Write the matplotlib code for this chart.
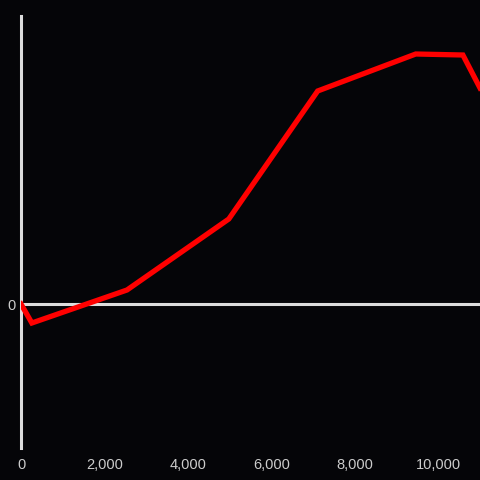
import matplotlib
matplotlib.use("Agg")
import matplotlib.pyplot as plt

x = [0, 260, 2540, 4980, 7110, 9460, 10590, 11000]
y = [0, -19, 14, 85, 213, 250, 249, 216]
xticks = [0, 2000, 4000, 6000, 8000, 10000]

plt.rcParams["font.family"] = ["Liberation Sans", "DejaVu Sans"]

bg = "#050508"
fig = plt.figure(figsize=(4.8, 4.8), dpi=100, facecolor=bg)
ax = fig.add_axes([21 / 480, 32 / 480, 459 / 480, 432 / 480])
ax.set_facecolor(bg)

ax.axhline(0, color="#dddddd", lw=2.2, zorder=1)
ax.plot(x, y, color="#ff0000", lw=3.8, solid_joinstyle="miter", zorder=3)

ax.set_xlim(0, 11000)
ax.set_ylim(-144, 288)

for s in ["top", "right", "bottom"]:
    ax.spines[s].set_visible(False)
ax.spines["left"].set_color("#dddddd")
ax.spines["left"].set_linewidth(2.2)

ax.set_xticks(xticks)
ax.set_xticklabels([f"{v:,}" for v in xticks])
ax.set_yticks([0])
ax.set_yticklabels(["0"])
ax.tick_params(axis="both", length=0, colors="#cccccc", labelsize=10.5)
ax.tick_params(axis="x", pad=7)
ax.tick_params(axis="y", pad=4)

fig.savefig("out.png", dpi=100, facecolor=bg)
